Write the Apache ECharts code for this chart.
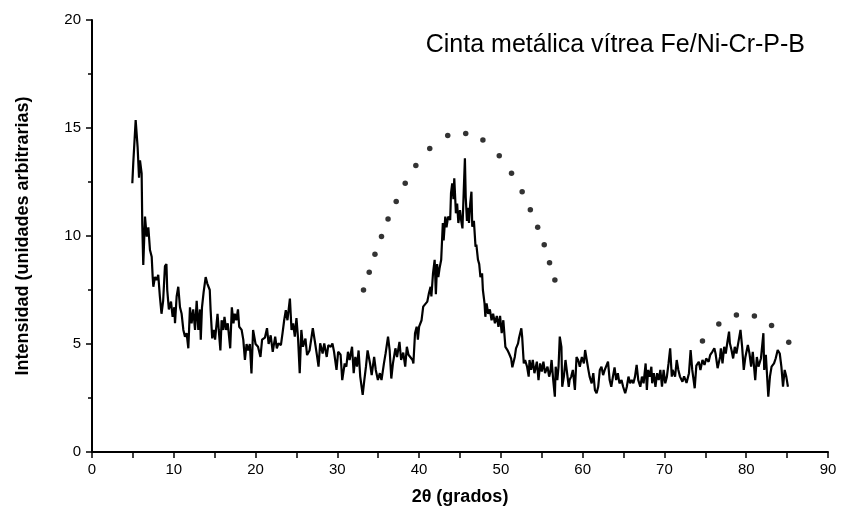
<!DOCTYPE html>
<html>
<head>
<meta charset="utf-8">
<script src="https://cdn.jsdelivr.net/npm/echarts@6/dist/echarts.min.js"></script>
<style>
  html, body { margin: 0; padding: 0; background: #fff; }
  #main { width: 842px; height: 517px; }
</style>
</head>
<body>
<div id="main"></div>
<script>
// 2θ (grados) del difractograma, leído a ojo de la figura
var angulos = [
  4.93,5.05,5.34,5.58,5.75,5.87,6.07,6.15,6.27,6.48,6.69,6.89,7.09,7.3,7.42,7.5,7.7,7.9,8.1,8.3,8.5,8.7,8.92,9.1,9.2,9.4,9.66,9.86,
  10.07,10.15,10.35,10.55,10.76,10.96,11.17,11.37,11.57,11.78,11.98,12.18,12.38,12.6,12.8,13.0,13.2,13.3,13.45,13.65,13.9,14.1,14.4,14.5,14.7,14.9,
  15.05,15.35,15.5,15.7,15.85,16.05,16.2,16.4,16.6,16.9,17.1,17.3,17.45,17.65,17.85,18.0,18.3,18.5,18.7,18.9,19.1,19.3,19.5,19.7,
  20.0,20.3,20.6,20.8,21.15,21.4,21.6,21.85,22.1,22.4,22.6,22.8,23.1,23.3,23.5,23.7,23.9,24.2,24.4,24.6,24.8,25.0,25.2,25.4,25.6,25.8,
  26.1,26.3,26.6,26.8,27.0,27.3,27.5,27.7,27.9,28.2,28.4,28.7,28.9,29.2,29.4,29.6,29.9,30.1,30.4,30.6,30.9,31.1,31.3,31.5,31.8,32.0,
  32.2,32.4,32.6,32.8,33.1,33.3,33.5,33.7,34.0,34.2,34.5,34.7,34.96,35.2,35.4,35.7,35.9,36.2,36.4,36.6,36.8,37.1,37.3,37.6,37.8,
  38.06,38.3,38.5,38.7,38.9,39.2,39.3,39.5,39.7,39.85,40.0,40.3,40.5,40.7,41.0,41.2,41.4,41.5,41.7,41.9,42.05,42.2,42.35,42.5,42.7,
  42.9,43.0,43.2,43.35,43.55,43.8,43.9,44.05,44.2,44.3,44.5,44.65,44.8,45.0,45.15,45.3,45.45,45.6,45.7,45.85,45.97,46.1,46.25,46.4,
  46.5,46.7,46.9,47.0,47.2,47.35,47.5,47.7,47.8,48.0,48.1,48.25,48.45,48.65,48.86,49.05,49.27,49.5,49.7,49.9,50.1,50.3,
  50.55,50.8,51.0,51.25,51.4,51.7,51.85,52.1,52.2,52.5,52.6,52.8,52.96,53.2,53.4,
  53.5,53.7,53.9,54.1,54.4,54.6,54.8,55.0,55.2,55.4,55.7,55.9,56.05,56.2,56.4,56.6,56.7,56.9,57.05,57.2,57.4,57.5,57.7,57.9,58.1,
  58.3,58.4,58.6,58.8,59.05,59.25,59.45,59.65,59.9,60.15,60.3,60.5,60.7,60.85,61.1,61.3,61.5,61.7,61.9,62.1,62.3,62.5,62.7,62.9,
  63.1,63.3,63.5,63.7,63.9,64.1,64.3,64.5,64.75,64.95,65.2,65.4,65.6,65.8,66.0,66.2,66.4,66.6,66.8,67.05,67.25,67.45,67.7,67.85,
  68.0,68.2,68.4,68.5,68.7,68.9,69.1,69.3,69.5,69.7,69.9,70.1,70.3,70.5,70.7,70.9,71.0,71.3,71.5,71.7,
  71.9,72.2,72.4,72.7,73.0,73.2,73.4,73.7,73.9,74.2,74.4,74.65,74.9,75.1,75.4,75.6,75.85,76.1,76.25,76.5,76.8,76.9,77.1,77.3,
  77.5,77.7,77.9,78.0,78.2,78.4,78.6,78.8,79.05,79.3,79.5,79.7,79.9,80.2,80.4,80.6,80.8,81.1,81.3,81.5,81.8,82.1,82.2,82.4,
  82.7,82.9,83.1,83.4,83.6,83.85,84.1,84.3,84.5,84.7,84.9,85.1
];
// intensidad (unidades arbitrarias)
var intensidad = [
  12.44,13.4,15.37,14.1,12.7,13.5,12.9,10.5,8.66,10.9,9.97,10.4,9.35,9.04,8.1,7.65,8.1,7.96,8.2,7.2,6.4,7.0,8.6,8.7,7.5,6.6,6.96,6.26,
  6.7,5.96,7.2,7.65,6.7,6.4,5.65,5.34,5.5,4.8,6.7,5.96,6.6,5.65,7.0,5.65,6.6,5.2,6.7,7.4,8.1,7.8,7.5,6.6,5.26,5.65,
  5.2,6.4,5.65,4.7,6.1,5.65,6.26,5.65,5.96,4.8,6.7,5.96,6.4,6.1,6.6,5.8,5.65,5.2,4.26,5.0,4.7,5.0,3.64,5.65,
  5.0,4.87,4.4,5.2,5.3,5.73,5.0,5.4,4.64,5.34,4.8,5.03,4.95,5.5,6.1,6.57,6.1,7.1,5.65,5.96,5.34,6.2,5.25,3.65,5.65,4.87,
  5.25,4.49,4.7,5.2,5.73,5.0,4.5,3.95,5.03,4.56,5.03,4.4,4.95,4.87,5.03,4.64,3.8,4.64,4.5,3.33,4.1,3.95,4.64,4.26,4.87,3.65,
  4.4,3.95,4.7,3.49,2.64,3.33,3.95,4.7,4.1,3.56,4.4,3.8,3.33,3.65,3.33,4.1,4.56,5.34,4.7,3.4,4.1,4.8,4.4,5.1,4.26,
  4.6,3.95,4.87,4.5,4.56,4.26,4.1,5.5,5.8,5.2,5.8,6.1,6.73,6.73,6.96,7.35,7.65,7.2,8.27,8.9,7.3,8.7,8.1,8.5,8.9,
  10.6,9.8,10.9,10.4,10.9,10.74,11.98,12.44,11.7,12.67,11.05,11.5,10.6,11.2,10.7,10.35,12.0,13.6,11.8,10.7,11.3,10.6,11.5,12.05,
  10.43,10.7,9.5,9.6,8.9,8.7,8.1,8.27,7.5,6.88,6.26,6.88,6.4,6.6,6.1,6.4,5.96,6.3,5.8,6.3,5.5,6.1,
  4.87,4.72,4.56,4.33,3.92,4.4,4.8,5.03,5.25,5.73,5.34,4.1,4.26,3.95,3.49,
  4.26,3.8,4.26,3.65,4.18,3.33,4.1,3.72,4.18,3.65,3.95,3.49,3.72,4.26,3.33,2.56,3.95,3.33,3.95,5.34,4.87,3.02,3.49,4.26,4.26,
  3.02,3.33,3.49,3.8,2.87,4.4,4.26,3.95,4.4,4.1,4.72,4.26,3.8,3.49,3.18,3.65,2.87,2.72,3.02,3.8,3.95,3.56,3.8,3.72,
  4.18,3.33,3.02,3.49,3.92,3.33,3.65,3.18,3.33,3.02,2.72,3.02,3.49,3.18,3.33,3.18,3.49,4.03,3.33,3.02,3.49,3.18,4.1,2.87,
  3.8,3.49,3.95,3.18,3.65,3.02,3.65,3.33,3.8,3.02,3.8,3.18,3.49,4.1,4.8,3.49,3.8,3.49,4.26,3.8,
  3.49,3.25,3.5,3.2,3.65,4.72,3.8,2.95,4.0,4.18,3.8,4.26,4.03,4.33,4.18,4.5,4.64,4.8,4.56,3.88,4.4,4.8,4.1,4.87,
  4.56,5.1,5.57,5.03,4.72,4.33,4.87,4.56,5.1,5.65,4.87,3.8,4.4,4.95,4.56,3.95,4.64,3.33,4.4,3.95,4.33,5.5,3.8,4.5,
  2.56,3.49,3.95,4.1,4.33,4.72,4.56,3.95,3.02,3.8,3.49,3.02
];

// envolvente punteada del halo amorfo principal
var haloAng = [33.2,33.9,34.6,35.4,36.2,37.2,38.3,39.6,41.3,43.5,45.7,47.8,49.8,51.3,52.6,53.6,54.5,55.3,55.95,56.6];
var haloInt = [7.5,8.32,9.15,9.98,10.79,11.6,12.44,13.26,14.05,14.65,14.75,14.44,13.72,12.9,12.05,11.22,10.4,9.6,8.76,7.96];
// envolvente punteada del segundo halo
var halo2Ang = [74.65,76.65,78.8,81.0,83.1,85.2];
var halo2Int = [5.14,5.93,6.34,6.3,5.86,5.08];

var ejeX = { min: 0, max: 90, paso: 10 };
var ejeY = { min: 0, max: 20, paso: 5 };

function pares(xs, ys) {
  var out = [];
  for (var i = 0; i < xs.length; i++) out.push([xs[i], ys[i]]);
  return out;
}

var fuente = 'Liberation Sans, Arial, sans-serif';
var fuenteEje = 'Liberation Sans Narrow, Liberation Sans, Arial, sans-serif';

var chart = echarts.init(document.getElementById('main'), null, { renderer: 'canvas' });
chart.setOption({
  animation: false,
  backgroundColor: '#fff',
  title: {
    text: 'Cinta metálica vítrea Fe/Ni-Cr-P-B',
    right: 32, top: 28,
    textStyle: { fontFamily: fuente, fontSize: 25, fontWeight: 'normal', color: '#000' }
  },
  grid: { left: 92, right: 14, top: 20, bottom: 65 },
  xAxis: {
    type: 'value', min: ejeX.min, max: ejeX.max, interval: ejeX.paso,
    name: '2θ (grados)', nameLocation: 'middle', nameGap: 36,
    nameTextStyle: { fontFamily: fuente, fontSize: 18, fontWeight: 'bold', color: '#000' },
    axisLine: { lineStyle: { color: '#000', width: 2 } },
    axisTick: { length: 6, lineStyle: { color: '#000', width: 1.5 } },
    minorTick: { show: true, splitNumber: 2, length: 6, lineStyle: { color: '#000', width: 1.5 } },
    axisLabel: { fontFamily: fuenteEje, fontSize: 15, color: '#000', margin: 10 },
    splitLine: { show: false }
  },
  yAxis: {
    type: 'value', min: ejeY.min, max: ejeY.max, interval: ejeY.paso,
    name: 'Intensidad (unidades arbitrarias)', nameLocation: 'middle', nameGap: 60,
    nameTextStyle: { fontFamily: fuente, fontSize: 18, fontWeight: 'bold', color: '#000' },
    axisLine: { lineStyle: { color: '#000', width: 2 } },
    axisTick: { length: 6, lineStyle: { color: '#000', width: 1.5 } },
    minorTick: { show: true, splitNumber: 2, length: 4, lineStyle: { color: '#000', width: 1.5 } },
    axisLabel: { fontFamily: fuenteEje, fontSize: 15, color: '#000', margin: 11 },
    splitLine: { show: false }
  },
  series: [
    {
      type: 'line', data: pares(angulos, intensidad),
      showSymbol: false, symbol: 'none',
      lineStyle: { color: '#000', width: 2.2 }
    },
    {
      type: 'scatter', data: pares(haloAng, haloInt),
      symbol: 'circle', symbolSize: 5.5,
      itemStyle: { color: '#000' }
    },
    {
      type: 'scatter', data: pares(halo2Ang, halo2Int),
      symbol: 'circle', symbolSize: 5.5,
      itemStyle: { color: '#000' }
    }
  ]
});
</script>
</body>
</html>
